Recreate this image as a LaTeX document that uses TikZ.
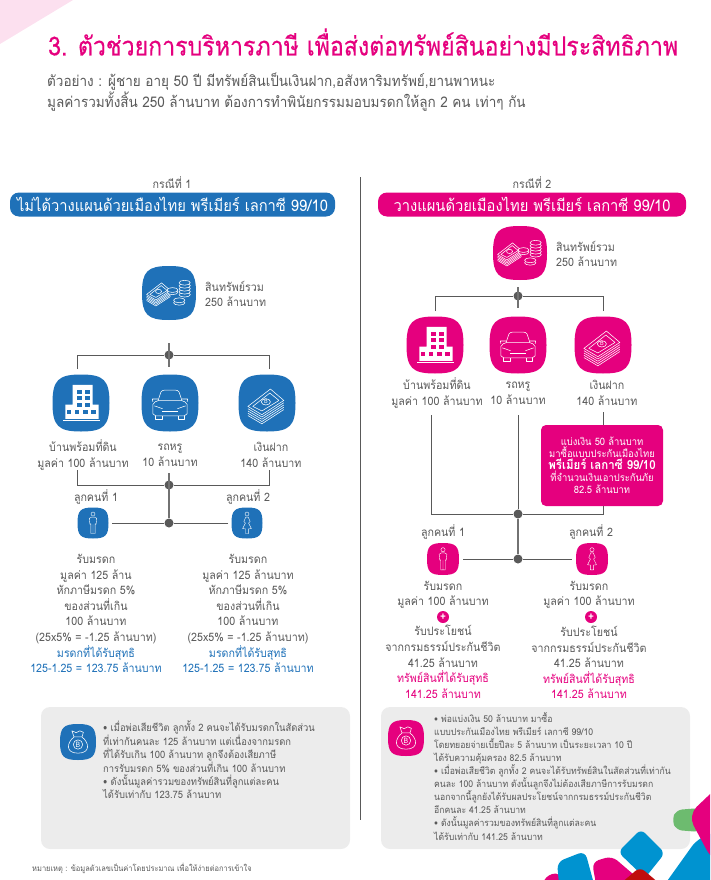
\documentclass[tikz,border=0pt]{standalone}
\usepackage{fontspec}
\setmainfont[Script=Thai,FakeStretch=0.92]{Loma}
\newfontfamily\titlefont[Script=Thai,FakeStretch=0.88,FakeBold=0.4]{Loma}
\usepackage{xcolor}
\usetikzlibrary{calc}
\definecolor{thblue}{HTML}{1F71B8}
\definecolor{thpink}{HTML}{E5007E}
\definecolor{thgrey}{HTML}{595959}
\definecolor{thpanel}{HTML}{ECECEC}
\definecolor{thsky}{HTML}{0093D0}
\definecolor{thgreen}{HTML}{6DBB6F}
\definecolor{thred}{HTML}{C00D0D}
\newcommand{\fs}[2]{\fontsize{#1}{#2}\selectfont}
% icon background plus a named empty node on top of it
\newcommand{\iconbox}[4]{%
  \path (#2) pic[scale=#3,#4] {squircle};
  \node[iconnode,minimum size=2*#3 pt] (#1) at (#2) {};
}
% banknote stack, used alone and next to the coins
\newcommand{\cashdraw}[1]{%
  \foreach \s in {.32,.24,.16,.08} {
    \draw[ico] ($(-.67,.12)+(0,\s)$) -- ($(-.18,.41)+(0,\s)$) -- ($(.59,-.09)+(0,\s)$);
  }
  \draw[ico,fill=#1] (-.67,.12) -- (.12,-.49) -- (.59,-.09) -- (-.18,.41) -- cycle;
  \draw[ico] (-.5,.12) -- (.1,-.35) -- (.42,-.09) -- (-.18,.28) -- cycle;
  \draw[ico] (-.04,-.04) ellipse (.16 and .11);
}
\tikzset{
  iconnode/.style={inner sep=0pt,outer sep=0pt},
  body/.style={text=thgrey,align=center,font=\fs{11.6}{15.6}},
  note/.style={text=thgrey,align=left,anchor=north west,inner sep=0pt,font=\fs{10.2}{13.1}},
  conn/.style={draw=thgrey,line width=1pt},
  trunk/.style={draw=thgrey!85,line width=1.4pt},
  dot/.style={circle,fill=thgrey,minimum size=9pt,inner sep=0pt},
  pill/.style={rounded corners=9pt,text=white,minimum height=24pt,font=\fs{16}{16}},
  panel/.style={fill=thpanel,rounded corners=9pt,inner sep=0pt},
  ico/.style={white,line width=.55pt,line join=round},
  thin/.style={white,line width=.4pt,line join=round},
  plusdot/.style={circle,fill=thpink,text=white,inner sep=0pt,minimum size=12pt,font=\bfseries\fs{11}{11}},
  pics/squircle/.style={code={
    \fill (-1,0) .. controls (-1,-.8) and (-.8,-1) .. (0,-1)
      .. controls (.8,-1) and (1,-.8) .. (1,0)
      .. controls (1,.8) and (.8,1) .. (0,1)
      .. controls (-.8,1) and (-1,.8) .. (-1,0) -- cycle;
  }},
  pics/cashicon/.style={code={
    \cashdraw{#1}
    \node[white,font=\fs{6}{6}] at (-.04,-.04) {B};
  }},
  pics/coinsicon/.style={code={
    \begin{scope}[shift={(-.36,-.03)},scale=.7]
      \cashdraw{#1}
    \end{scope}
    \foreach \h in {.06,-.05,-.16,-.27,-.38} {
      \draw[ico,fill=#1] (.58,\h) ellipse (.21 and .09);
    }
    \foreach \h in {-.03,-.11} {
      \draw[ico,fill=#1] (.13,\h) ellipse (.2 and .09);
    }
    \foreach \h in {.36,.27} {
      \draw[ico,fill=#1] (.38,\h) ellipse (.21 and .09);
    }
  }},
  pics/houseicon/.style={code={
    \fill[white] (-.29,.06) -- (-.29,-.64) -- (.41,-.64) -- (.41,.06) -- (.62,.06) -- (.62,.56) -- (-.55,.56) -- (-.55,.06) -- cycle;
    \fill[white] (-.62,.58) rectangle (.67,.63);
    \foreach \xx in {-.04,.24} {
      \foreach \yy in {-.4,-.16,.06} {
        \fill[#1] (\xx-.09,\yy-.07) rectangle (\xx+.09,\yy+.07);
      }
    }
    \foreach \xx in {-.42,-.14,.16,.44} {
      \fill[#1] (\xx-.08,.24) rectangle (\xx+.08,.38);
    }
  }},
  pics/caricon/.style={code={
    \draw[ico] (-.42,-.08) -- (-.32,-.38) .. controls (-.3,-.43) and (-.25,-.45) .. (-.2,-.45) -- (.2,-.45) .. controls (.25,-.45) and (.3,-.43) .. (.32,-.38) -- (.42,-.08);
    \draw[ico] (-.6,.05) .. controls (-.55,-.02) and (-.5,-.08) .. (-.42,-.08) -- (.42,-.08) .. controls (.5,-.08) and (.55,-.02) .. (.6,.05) -- (.6,.38) -- (.5,.45) -- (-.5,.45) -- (-.6,.38) -- cycle;
    \draw[ico] (-.42,-.14) -- (-.62,-.14) -- (-.6,-.04);
    \draw[ico] (.42,-.14) -- (.62,-.14) -- (.6,-.04);
    \draw[ico] (-.55,.1) -- (-.26,.2);
    \draw[ico] (.55,.1) -- (.26,.2);
    \draw[ico] (-.28,.3) -- (.28,.3);
    \draw[ico] (-.5,.45) -- (-.5,.56) -- (-.28,.56) -- (-.28,.45);
    \draw[ico] (.5,.45) -- (.5,.56) -- (.28,.56) -- (.28,.45);
  }},
  pics/manicon/.style={code={
    \draw[thin] (0,-.58) circle (.13);
    \draw[thin] (-.14,.68) -- (-.14,.05) -- (-.2,.08) -- (-.24,-.3) -- (-.1,-.38) -- (.1,-.38) -- (.24,-.3) -- (.2,.08) -- (.14,.05) -- (.14,.68) -- (0,.68) -- (0,.1) -- (0,.68) -- cycle;
  }},
  pics/womanicon/.style={code={
    \draw[thin] (0,-.58) circle (.13);
    \draw[thin] (-.08,-.38) -- (.08,-.38) -- (.2,-.1) -- (.1,0) -- (.28,.36) -- (.1,.38) -- (.1,.68) -- (-.1,.68) -- (-.1,.38) -- (-.28,.36) -- (-.1,0) -- (-.2,-.1) -- cycle;
  }},
  pics/bagicon/.style={code={
    \draw[ico] (-.22,-.28) -- (-.34,-.62) -- (-.1,-.52) -- (.1,-.62) -- (.3,-.54) -- (.22,-.28) -- cycle;
    \draw[ico] (-.22,-.28) .. controls (-.62,.02) and (-.72,.62) .. (0,.62) .. controls (.72,.62) and (.62,.02) .. (.22,-.28);
    \draw[ico] (0,.14) circle (.26);
    \node[white,font=\fs{7.5}{7.5}] at (0,.14) {B};
  }},
}
\begin{document}
\begin{tikzpicture}[x=1pt,y=-1pt]
\useasboundingbox (0,0) rectangle (710,880);
\fill[thpink!12] (0,0) -- (73,0) -- (0,44) -- cycle;

% Title
\node[anchor=west,inner sep=0pt,text=thpink,font=\titlefont\fs{26.3}{28}] (title) at (48,42) {3. ตัวช่วยการบริหารภาษี เพื่อส่งต่อทรัพย์สินอย่างมีประสิทธิภาพ};
\node[anchor=north west,inner sep=0pt,text=thgrey,align=left,font=\fs{14.7}{21}] (intro) at (47,73) {ตัวอย่าง : ผู้ชาย อายุ 50 ปี มีทรัพย์สินเป็นเงินฝาก,อสังหาริมทรัพย์,ยานพาหนะ\\มูลค่ารวมทั้งสิ้น 250 ล้านบาท ต้องการทำพินัยกรรมมอบมรดกให้ลูก 2 คน เท่าๆ กัน};

% Divider
\coordinate (divtop) at (360,177);
\coordinate (divbot) at (360,820);
\draw[thgrey,line width=.8pt] (divtop) -- (divbot);

% Case 1
\node[body] (caseL) at (172,183) {กรณีที่ 1};
\node[pill,fill=thblue,minimum width=325pt] (pillL) at (172.5,204.5) {ไม่ได้วางแผนด้วยเมืองไทย พรีเมียร์ เลกาซี 99/10};

\iconbox{totalL}{169,293}{27}{thblue}
\path (totalL) pic[scale=27] {coinsicon=thblue};
\node[body,anchor=west,align=left,inner sep=0pt] (totalLtxt) at (205,294) {สินทรัพย์รวม\\250 ล้านบาท};

\iconbox{houseL}{81,403}{28.5}{thblue}
\path (houseL) pic[scale=28.5] {houseicon=thblue};
\iconbox{carL}{170,403}{28.5}{thblue}
\path (carL) pic[scale=28.5] {caricon};
\iconbox{cashL}{267,403}{28.5}{thblue}
\path (cashL) pic[scale=28.5] {cashicon=thblue};
\node[body] (houseLtxt) at (83,455) {บ้านพร้อมที่ดิน\\มูลค่า 100 ล้านบาท};
\node[body] (carLtxt) at (170,455) {รถหรู\\10 ล้านบาท};
\node[body] (cashLtxt) at (271,455) {เงินฝาก\\140 ล้านบาท};

\node[dot] (topdotL) at (169,355) {};
\node[dot] (middotL) at (169,485) {};
\node[dot] (lowdotL) at (169,523) {};
\coordinate (upL) at (169,343);
\coordinate (dnL) at (169,367);
\coordinate (a1L) at (77,369);
\coordinate (a2L) at (269,369);
\coordinate (b1L) at (77,470);
\coordinate (b2L) at (269,470);
\coordinate (b3L) at (169,473);
\coordinate (c1L) at (112,523);
\coordinate (c2L) at (228,523);
\draw[trunk] (upL) -- (dnL);
\draw[conn] (a1L) |- (topdotL);
\draw[conn] (a2L) |- (topdotL);
\draw[conn] (b1L) |- (middotL);
\draw[conn] (b2L) |- (middotL);
\draw[trunk] (b3L) -- (lowdotL);
\draw[conn] (c1L) -- (lowdotL);
\draw[conn] (c2L) -- (lowdotL);

\node[body] (kid1Ltxt) at (96,497) {ลูกคนที่ 1};
\node[body] (kid2Ltxt) at (248,497) {ลูกคนที่ 2};
\iconbox{kid1L}{93,523}{15.5}{thblue}
\path (kid1L) pic[scale=15.5] {manicon};
\iconbox{kid2L}{247,523}{15.5}{thblue}
\path (kid2L) pic[scale=15.5] {womanicon};

\node[body] (resL1) at (96,613.5) {รับมรดก\\มูลค่า 125 ล้าน\\หักภาษีมรดก 5\%\\ของส่วนที่เกิน\\100 ล้านบาท\\(25x5\% = -1.25 ล้านบาท)\\\textcolor{thblue}{มรดกที่ได้รับสุทธิ}\\\textcolor{thblue}{125-1.25 = 123.75 ล้านบาท}};
\node[body] (resL2) at (248,613.5) {รับมรดก\\มูลค่า 125 ล้านบาท\\หักภาษีมรดก 5\%\\ของส่วนที่เกิน\\100 ล้านบาท\\(25x5\% = -1.25 ล้านบาท)\\\textcolor{thblue}{มรดกที่ได้รับสุทธิ}\\\textcolor{thblue}{125-1.25 = 123.75 ล้านบาท}};

% Case 2
\node[body] (caseR) at (532,183) {กรณีที่ 2};
\node[pill,fill=thpink,minimum width=308pt] (pillR) at (532,204.5) {วางแผนด้วยเมืองไทย พรีเมียร์ เลกาซี 99/10};

\iconbox{totalR}{520,253}{27}{thpink}
\path (totalR) pic[scale=27] {coinsicon=thpink};
\node[body,anchor=west,align=left,inner sep=0pt] (totalRtxt) at (556,254) {สินทรัพย์รวม\\250 ล้านบาท};

\iconbox{houseR}{435,345}{28.5}{thpink}
\path (houseR) pic[scale=28.5] {houseicon=thpink};
\iconbox{carR}{518,345}{28.5}{thpink}
\path (carR) pic[scale=28.5] {caricon};
\iconbox{cashR}{603,345}{28.5}{thpink}
\path (cashR) pic[scale=28.5] {cashicon=thpink};
\node[body] (houseRtxt) at (437,393) {บ้านพร้อมที่ดิน\\มูลค่า 100 ล้านบาท};
\node[body] (carRtxt) at (518,393) {รถหรู\\10 ล้านบาท};
\node[body] (cashRtxt) at (607,393) {เงินฝาก\\140 ล้านบาท};

\node[fill=thpink,rounded corners=5pt,text=white,align=center,minimum width=122pt,minimum height=81pt,inner sep=0pt] (buybox) at (602,465.5) {\fs{10.2}{14}แบ่งเงิน 50 ล้านบาท\\\fs{10.2}{14}มาซื้อแบบประกันเมืองไทย\\\fs{12.5}{14}\bfseries พรีเมียร์ เลกาซี 99/10\\\fs{10.2}{14}ที่จำนวนเงินเอาประกันภัย\\\fs{10.2}{14}82.5 ล้านบาท};

\node[dot] (topdotR) at (518,296) {};
\node[dot] (middotR) at (518,514) {};
\node[dot] (lowdotR) at (518,559) {};
\coordinate (upR) at (518,287);
\coordinate (dnR) at (518,308);
\coordinate (a1R) at (435,311);
\coordinate (a2R) at (603,311);
\coordinate (b1R) at (431,415);
\coordinate (b2R) at (518,415);
\coordinate (b3R) at (603,412);
\coordinate (b4R) at (603,425);
\coordinate (b5R) at (603,506);
\coordinate (c1R) at (463,559);
\coordinate (c2R) at (572,559);
\draw[trunk] (upR) -- (dnR);
\draw[conn] (a1R) |- (topdotR);
\draw[conn] (a2R) |- (topdotR);
\draw[conn] (b1R) |- (middotR);
\draw[conn] (b2R) -- (middotR);
\draw[conn] (b3R) -- (b4R);
\draw[conn] (b5R) |- (middotR);
\draw[trunk] (middotR) -- (lowdotR);
\draw[conn] (c1R) -- (lowdotR);
\draw[conn] (c2R) -- (lowdotR);

\node[body] (kid1Rtxt) at (443,532) {ลูกคนที่ 1};
\node[body] (kid2Rtxt) at (591,532) {ลูกคนที่ 2};
\iconbox{kid1R}{443,559}{16}{thpink}
\path (kid1R) pic[scale=16] {manicon};
\iconbox{kid2R}{592,559}{16}{thpink}
\path (kid2R) pic[scale=16] {womanicon};

\node[body] (res1Ra) at (443,595) {รับมรดก\\มูลค่า 100 ล้านบาท};
\node[body] (res2Ra) at (589,595) {รับมรดก\\มูลค่า 100 ล้านบาท};
\node[plusdot] (plus1R) at (443,617) {+};
\node[plusdot] (plus2R) at (591,617) {+};
\node[body] (res1Rb) at (443,662) {รับประโยชน์\\จากกรมธรรม์ประกันชีวิต\\41.25 ล้านบาท\\\textcolor{thpink}{ทรัพย์สินที่ได้รับสุทธิ}\\\textcolor{thpink}{141.25 ล้านบาท}};
\node[body] (res2Rb) at (589,662.5) {รับประโยชน์\\จากกรมธรรม์ประกันชีวิต\\41.25 ล้านบาท\\\textcolor{thpink}{ทรัพย์สินที่ได้รับสุทธิ}\\\textcolor{thpink}{141.25 ล้านบาท}};

% Bottom panels
\node[panel,minimum width=309pt,minimum height=142pt] (panelL) at (195.5,778) {};
\node[panel,minimum width=309pt,minimum height=142pt] (panelR) at (535.5,778) {};
\iconbox{bagL}{78,742}{18}{thblue}
\path (bagL) pic[scale=18] {bagicon};
\iconbox{bagR}{406,738}{18}{thpink}
\path (bagR) pic[scale=18] {bagicon};
\node[note] (noteL) at (103,720) {• เมื่อพ่อเสียชีวิต ลูกทั้ง 2 คนจะได้รับมรดกในสัดส่วน\\ที่เท่ากันคนละ 125 ล้านบาท แต่เนื่องจากมรดก\\ที่ได้รับเกิน 100 ล้านบาท ลูกจึงต้องเสียภาษี\\การรับมรดก 5\% ของส่วนที่เกิน 100 ล้านบาท\\• ดังนั้นมูลค่ารวมของทรัพย์สินที่ลูกแต่ละคน\\ได้รับเท่ากับ 123.75 ล้านบาท};
\node[note,font=\fs{9.4}{13.1}] (noteR) at (434,712) {• พ่อแบ่งเงิน 50 ล้านบาท มาซื้อ\\แบบประกันเมืองไทย พรีเมียร์ เลกาซี 99/10\\โดยทยอยจ่ายเบี้ยปีละ 5 ล้านบาท เป็นระยะเวลา 10 ปี\\ได้รับความคุ้มครอง 82.5 ล้านบาท\\• เมื่อพ่อเสียชีวิต ลูกทั้ง 2 คนจะได้รับทรัพย์สินในสัดส่วนที่เท่ากัน\\คนละ 100 ล้านบาท ดังนั้นลูกจึงไม่ต้องเสียภาษีการรับมรดก\\นอกจากนี้ลูกยังได้รับผลประโยชน์จากกรมธรรม์ประกันชีวิต\\อีกคนละ 41.25 ล้านบาท\\• ดังนั้นมูลค่ารวมของทรัพย์สินที่ลูกแต่ละคน\\ได้รับเท่ากับ 141.25 ล้านบาท};
\node[anchor=west,inner sep=0pt,text=thgrey,font=\fs{8.1}{9}] (footnote) at (32,868) {หมายเหตุ : ข้อมูลตัวเลขเป็นค่าโดยประมาณ เพื่อให้ง่ายต่อการเข้าใจ};

% Corner decoration
\begin{scope}
\clip (0,0) rectangle (710,880);
\fill[rounded corners=6pt,thgreen] (676,810) -- (700,808) -- (700,832) -- (676,830) -- (672,820) -- cycle;
\fill[rounded corners=14pt,thsky] (650,905) -- (700,835) -- (770,825) -- (770,905) -- cycle;
\fill[rounded corners=12pt,thpink] (688,815) -- (727,778) -- (740,875) -- (712,860) -- cycle;
\fill[rounded corners=6pt,thsky] (641,829) -- (665,853) -- (645,878) -- (618,852) -- cycle;
\fill[rounded corners=7pt,thpink] (592,862) -- (612,856) -- (640,880) -- (620,895) -- (598,895) -- cycle;
\fill[rounded corners=7pt,thpink] (545,876) -- (560,872) -- (565,895) -- (540,895) -- cycle;
\fill[rounded corners=7pt,thsky] (557,862) -- (585,851) -- (597,895) -- (560,895) -- cycle;
\fill[rounded corners=6pt,thred] (640,867) -- (660,884) -- (640,900) -- (620,884) -- cycle;
\end{scope}
\end{tikzpicture}
\end{document}
